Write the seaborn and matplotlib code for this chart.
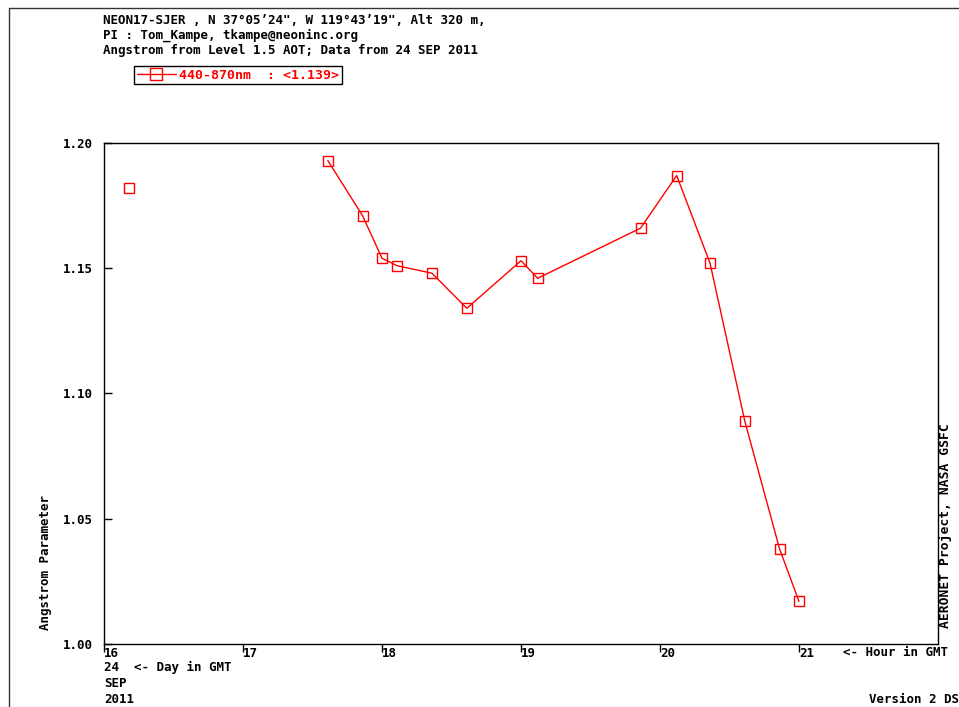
import seaborn as sns
import pandas as pd
import matplotlib.pyplot as plt
from matplotlib.lines import Line2D

# Angstrom 440-870nm, hour in GMT, 24 SEP 2011
hours = [16.18, 17.61, 17.86, 18.00, 18.11, 18.36, 18.61, 19.00, 19.12,
         19.86, 20.12, 20.36, 20.61, 20.86, 21.00]
angstrom = [1.182, 1.193, 1.171, 1.154, 1.151, 1.148, 1.134, 1.153, 1.146,
            1.166, 1.187, 1.152, 1.089, 1.038, 1.017]
segment = [0, 1, 1, 1, 1, 1, 1, 1, 1, 1, 1, 1, 1, 1, 1]
yticks = [1.00, 1.05, 1.10, 1.15, 1.20]
xticks = [16, 17, 18, 19, 20, 21]

W, H = 959, 707


def fx(px):
    return px / W


def fy(py):
    return 1 - py / H


df = pd.DataFrame({"hour": hours, "angstrom": angstrom, "segment": segment})

sns.set_style("ticks")
plt.rcParams['font.family'] = ['DejaVu Sans Mono']
plt.rcParams['font.weight'] = 'bold'
plt.rcParams['font.size'] = 9
plt.rcParams['text.color'] = 'black'

fig = plt.figure(figsize=(W / 100, H / 100), dpi=100)
ax = fig.add_axes([fx(104), fy(644), fx(938) - fx(104), fy(143) - fy(644)])

sns.lineplot(data=df, x="hour", y="angstrom", units="segment", estimator=None,
             color="#ff0000", lw=1, marker="s", markersize=7,
             markerfacecolor="none", markeredgecolor="#ff0000",
             markeredgewidth=1, ax=ax, legend=False)

ax.set_xlim(16, 22)
ax.set_ylim(1.0, 1.2)
ax.set_xticks(xticks)
ax.set_xticklabels([str(t) for t in xticks])
ax.set_yticks(yticks)
ax.set_yticklabels(["%.2f" % t for t in yticks])
ax.set(xlabel=None, ylabel=None)
ax.tick_params(axis="x", direction="out", length=6, width=1, pad=-4,
               colors="black", labelsize=9)
ax.tick_params(axis="y", direction="in", length=6, width=1, pad=8,
               colors="black", labelsize=9)
for lab in ax.get_xticklabels():
    lab.set_ha("left")
for sp in ax.spines.values():
    sp.set_visible(True)
    sp.set_color("black")
    sp.set_linewidth(1)

ax.legend(handles=[ax.lines[0]], labels=["440-870nm  : <1.139>"],
          loc="upper left", bbox_to_anchor=(fx(134), fy(66)),
          bbox_transform=fig.transFigure, frameon=True, fancybox=False,
          edgecolor="black", framealpha=1, borderpad=0.2, borderaxespad=0,
          handlelength=3.0, handletextpad=0.2, labelcolor="#ff0000",
          markerscale=1.2,
          prop={"family": "DejaVu Sans Mono", "weight": "bold", "size": 9.5})
ax.get_legend().get_frame().set_linewidth(1)

# header
fig.text(fx(103), fy(24), "NEON17-SJER , N 37\u00b005\u201924\", W 119\u00b043\u201919\", Alt 320 m,",
         va="baseline", ha="left")
fig.text(fx(103), fy(39), "PI : Tom_Kampe, tkampe@neoninc.org", va="baseline", ha="left")
fig.text(fx(103), fy(54), "Angstrom from Level 1.5 AOT; Data from 24 SEP 2011",
         va="baseline", ha="left")

# axis annotations
fig.text(fx(46), fy(630), "Angstrom Parameter", rotation=90, ha="center", va="bottom")
fig.text(fx(946), fy(628), "AERONET Project, NASA GSFC", rotation=90, ha="center",
         va="bottom", fontsize=9.4)
fig.text(fx(843), fy(656), "<- Hour in GMT", va="baseline", ha="left")
fig.text(fx(104), fy(671), "24  <- Day in GMT", va="baseline", ha="left")
fig.text(fx(104), fy(687), "SEP", va="baseline", ha="left")
fig.text(fx(104), fy(703), "2011", va="baseline", ha="left")
fig.text(fx(869), fy(703), "Version 2 DS", va="baseline", ha="left")

# outer frame
fig.add_artist(Line2D([fx(9), 1.0], [fy(8), fy(8)], color="#333333", lw=1,
                      transform=fig.transFigure))
fig.add_artist(Line2D([fx(9), fx(9)], [fy(8), 0.0], color="#333333", lw=1,
                      transform=fig.transFigure))

fig.savefig("out.png", dpi=100)
